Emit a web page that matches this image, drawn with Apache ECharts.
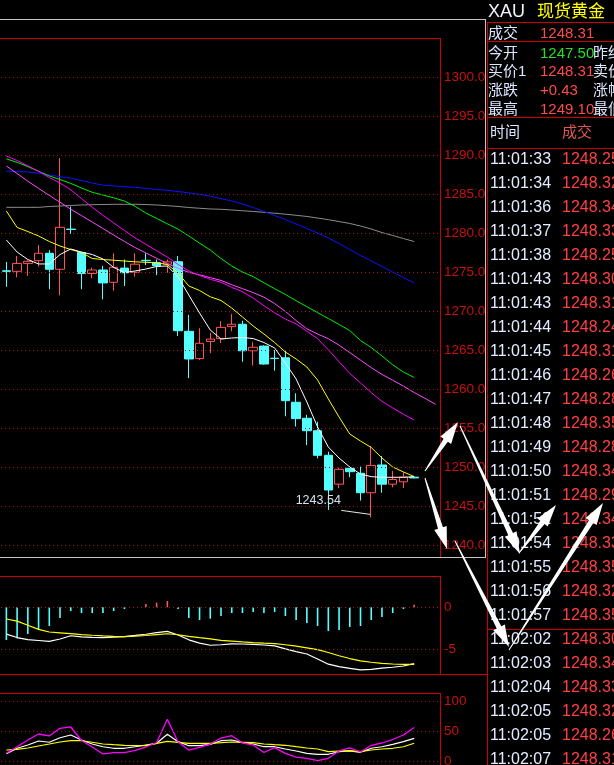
<!DOCTYPE html>
<html><head><meta charset="utf-8">
<script src="https://cdn.jsdelivr.net/npm/echarts@6/dist/echarts.min.js"></script>
<style>html,body{margin:0;padding:0;background:#000;overflow:hidden}#c{width:614px;height:765px}</style>
</head><body><div id="c"></div>
<script>
// ---------- DATA ----------
const categories = ['1','2','3','4','5','6','7','8','9','10','11','12','13','14','15','16','17','18','19','20','21','22','23','24','25','26','27','28','29','30','31','32','33','34','35','36','37','38','39','40','41'];
const kOpen  = [1275.15,1275.09,1276.10,1276.45,1277.40,1275.35,1280.50,1277.50,1274.80,1275.26,1273.68,1275.50,1274.96,1276.50,1276.20,1276.00,1276.32,1267.40,1263.90,1266.10,1266.45,1268.00,1268.30,1264.90,1265.50,1263.95,1264.00,1258.30,1256.25,1254.65,1251.50,1247.80,1249.83,1249.20,1246.70,1250.26,1247.80,1248.10,1248.70];
const kClose = [1275.09,1276.10,1276.37,1277.40,1275.35,1280.73,1280.45,1274.80,1275.26,1273.60,1275.60,1274.90,1276.00,1276.45,1275.80,1276.30,1267.47,1263.85,1265.86,1266.40,1267.90,1268.30,1264.90,1265.35,1263.20,1263.90,1258.50,1256.20,1254.65,1251.50,1247.05,1249.70,1249.40,1246.70,1250.20,1247.80,1248.40,1248.70,1248.60];
const kLow   = [1273.10,1274.30,1274.50,1275.70,1272.80,1272.00,1279.90,1272.80,1274.20,1271.50,1272.60,1273.20,1274.40,1275.90,1274.60,1274.90,1266.80,1261.40,1263.70,1264.60,1265.90,1267.40,1263.50,1263.00,1263.10,1262.35,1256.50,1255.20,1252.80,1251.10,1244.50,1247.30,1248.70,1245.70,1243.54,1246.70,1247.40,1247.30,1248.55];
const kHigh  = [1276.30,1277.05,1276.50,1278.46,1277.80,1289.60,1283.40,1277.60,1275.55,1275.80,1277.40,1276.60,1277.40,1277.40,1276.60,1276.60,1277.05,1269.50,1267.80,1267.20,1268.70,1269.60,1268.75,1266.00,1265.60,1265.00,1265.00,1259.45,1256.70,1255.80,1251.96,1249.90,1250.10,1250.05,1252.70,1251.40,1249.50,1249.30,1248.80];

const maWhite  = [1279.10,1277.56,1276.60,1276.03,1276.03,1277.24,1277.95,1277.56,1277.24,1276.67,1275.58,1274.94,1275.13,1275.38,1275.71,1275.77,1274.36,1272.05,1269.74,1267.56,1266.41,1266.54,1266.60,1266.47,1265.96,1265.26,1263.33,1261.28,1258.33,1255.13,1252.56,1251.15,1250.00,1249.10,1248.76,1248.68,1248.68,1248.68,1248.76];
const maYellow = [1282.82,1280.71,1280.19,1279.62,1278.91,1278.33,1277.88,1277.50,1276.73,1276.60,1276.51,1276.41,1276.31,1276.24,1276.18,1275.96,1274.87,1273.21,1272.63,1271.82,1271.35,1270.38,1269.23,1268.08,1267.05,1265.96,1264.74,1263.85,1262.82,1261.15,1258.72,1256.41,1254.23,1253.33,1252.50,1251.15,1250.00,1249.36,1248.78];
const maMagentaA = [1289.87,1289.29,1288.62,1287.91,1287.12,1286.41,1285.54,1284.42,1283.31,1282.26,1281.29,1280.32,1279.37,1278.55,1277.73,1276.90,1275.97,1275.13,1274.56,1274.06,1273.69,1273.03,1272.47,1271.67,1270.67,1269.77,1268.96,1268.35,1267.41,1266.45,1265.04,1263.50,1262.00,1260.78,1259.54,1258.41,1257.58,1256.76,1256.03];
const maMagentaB = [1288.59,1287.62,1286.64,1285.72,1284.82,1283.94,1283.05,1282.23,1281.40,1280.58,1279.74,1278.92,1278.13,1277.44,1276.76,1276.08,1275.47,1274.96,1274.63,1274.28,1273.92,1273.37,1272.87,1272.35,1271.77,1270.95,1269.94,1268.78,1267.72,1267.05,1266.45,1265.62,1264.67,1263.71,1262.74,1261.87,1261.12,1260.37,1259.55,1258.81,1258.03];
const maGreen = [1289.51,1289.06,1288.51,1287.91,1287.31,1286.86,1286.36,1285.77,1285.22,1284.87,1284.51,1284.10,1283.42,1282.56,1281.87,1281.18,1280.50,1279.62,1278.69,1277.82,1276.73,1275.77,1275.00,1274.40,1273.62,1272.86,1272.12,1271.32,1270.56,1269.79,1269.04,1268.28,1267.49,1266.22,1265.32,1264.23,1263.10,1262.18,1261.47];
const maBlue  = [1287.92,1287.87,1287.82,1287.67,1287.44,1287.22,1287.03,1286.73,1286.41,1286.13,1286.03,1285.94,1285.85,1285.72,1285.59,1285.47,1285.32,1285.14,1284.94,1284.71,1284.42,1284.10,1283.72,1283.27,1282.76,1282.24,1281.73,1281.15,1280.58,1280.00,1279.36,1278.65,1277.88,1277.12,1276.41,1275.71,1275.00,1274.29,1273.59];
const maGray  = [1283.29,1283.29,1283.29,1283.29,1283.40,1283.46,1283.53,1283.59,1283.63,1283.65,1283.68,1283.68,1283.68,1283.65,1283.59,1283.50,1283.40,1283.27,1283.17,1283.08,1283.04,1282.95,1282.85,1282.76,1282.65,1282.54,1282.41,1282.27,1282.12,1281.92,1281.71,1281.47,1281.22,1280.90,1280.51,1280.06,1279.68,1279.29,1278.91];

const macdHist = [-3.89,-3.69,-3.18,-2.62,-2.23,-1.27,-0.44,-0.68,-0.68,-0.68,-0.44,-0.20,0,0.39,0.55,0.75,-0.20,-1.27,-1.51,-1.36,-1.04,-0.68,-0.68,-0.56,-0.68,-0.56,-1.04,-1.51,-1.87,-2.23,-2.82,-2.70,-2.35,-2.23,-1.51,-1.15,-0.68,-0.20,0.31];
const macdDif  = [-3.20,-3.60,-3.85,-3.95,-4.05,-3.77,-3.39,-3.51,-3.57,-3.60,-3.54,-3.48,-3.35,-3.21,-3.01,-2.87,-3.30,-3.87,-4.26,-4.52,-4.46,-4.35,-4.37,-4.42,-4.49,-4.60,-4.94,-5.27,-5.56,-6.15,-6.77,-7.06,-7.26,-7.46,-7.40,-7.25,-7.14,-6.99,-6.71];
const macdDea  = [-1.39,-1.65,-2.13,-2.63,-2.94,-3.04,-3.14,-3.25,-3.33,-3.40,-3.46,-3.49,-3.44,-3.36,-3.25,-3.15,-3.27,-3.46,-3.62,-3.76,-3.94,-4.02,-4.12,-4.20,-4.27,-4.33,-4.46,-4.63,-4.82,-5.04,-5.38,-5.77,-6.10,-6.37,-6.54,-6.68,-6.75,-6.79,-6.79];

const kdjJ = [12.8,23.8,35,45,41.7,54.5,56.7,34.2,23.3,11.7,13.8,13.8,17.8,23.3,30.8,69.5,31.7,18.3,22.8,28.3,38.3,42.2,30,26.7,14.2,22.2,12.8,6.3,4.5,0.5,4.5,16.7,21.7,15,26.2,30,35.8,43.3,55.8];
const kdjK = [12.2,21.2,26.7,33.3,31.2,38.8,43.3,35,28.3,23.8,21.2,21.2,23.8,26.7,29.5,44.5,32.2,25.5,25.5,27.8,33.8,35,30.5,28.3,23.8,23.8,20,16.7,12.8,11.2,11.2,15.5,16.7,14.5,21.2,23.8,27.8,32.2,37.8];
const kdjD = [18.3,19.5,21.7,25,28.3,31.7,33.8,33.8,31.2,28.3,27.2,26.2,25.5,25.5,29.5,32.8,31.2,29.5,29.5,29.5,30.5,31.7,31.2,30.5,28.3,27.2,26.2,23.8,21.7,20,15.5,16.7,17.2,15.5,18.3,20,21.2,23.8,29.5];

const mainTicks = [1240,1245,1250,1255,1260,1265,1270,1275,1280,1285,1290,1295,1300];
const macdTicks = [0,-5];
const kdjTicks  = [0,50,100];
const lowMark = {index:34, value:1243.54};

const quoteHeader = ['XAU','现货黄金'];
const quoteLabels = ['成交','今开','买价1','涨跌','最高'];
const quoteValues = ['1248.31','1247.50','1248.31','+0.43','1249.10'];
const quoteValueColors = ['#ff4a4a','#22e022','#ff4a4a','#ff4a4a','#ff4a4a'];
const quoteRight = ['','昨结','卖价','涨幅','最低'];
const tableHeader = ['时间','成交'];
const tradeTimes = ['11:01:33','11:01:34','11:01:36','11:01:37','11:01:38','11:01:43','11:01:43','11:01:44','11:01:45','11:01:46','11:01:47','11:01:48','11:01:49','11:01:50','11:01:51','11:01:52','11:01:54','11:01:55','11:01:56','11:01:57','11:02:02','11:02:03','11:02:04','11:02:05','11:02:05','11:02:07'];
const tradePrices = ['1248.25','1248.32','1248.34','1248.33','1248.25','1248.30','1248.31','1248.24','1248.31','1248.26','1248.28','1248.35','1248.28','1248.34','1248.29','1248.34','1248.33','1248.35','1248.32','1248.35','1248.30','1248.34','1248.33','1248.32','1248.26','1248.31'];

// ---------- STYLE ----------
const FONT = '"Liberation Sans","Noto Sans CJK SC",sans-serif';
const RED = '#cc0000', GRAY = '#c4c4c4', AXISRED = '#c81010', DOT = '#a01414';
const UP = '#ff5454', DOWN = '#54ffff';

const hasTick = (arr, v) => arr.some(t => Math.abs(t - v) < 1e-6);
const candleData = kOpen.map((o, i) => [o, kClose[i], kLow[i], kHigh[i]]);

function gridLines(ticks) {
  return {
    silent: true, symbol: ['none','none'], animation: false,
    label: {show: false},
    lineStyle: {color: DOT, type: [1,3], width: 1},
    data: ticks.map(v => ({yAxis: v}))
  };
}
function line(name, data, color, xi, width) {
  return {name, type:'line', xAxisIndex:xi, yAxisIndex:xi, data, symbol:'none', showSymbol:false,
    lineStyle:{color, width: width || 1}, z:3, animation:false, silent:true};
}
function yAx(gi, min, max, interval, ticks, fmt, pad) {
  return {gridIndex:gi, type:'value', position:'right', min, max, interval, scale:false,
    axisLine:{show:false}, axisTick:{show:false}, splitLine:{show:false},
    axisLabel:{margin:3, color:AXISRED, fontSize:13.5, fontFamily:FONT, padding:[pad,0,0,0],
      showMinLabel:true, showMaxLabel:true,
      formatter: v => hasTick(ticks, v) ? fmt(v) : ''}};
}
const xAx = gi => ({gridIndex:gi, type:'category', data:categories, boundaryGap:true, show:false});

// frame lines
const L = (x1,y1,x2,y2,c) => ({type:'line', silent:true, z:50, shape:{x1,y1,x2,y2}, style:{stroke:c, lineWidth:1}});
const graphics = [
  L(0,19.5,486,19.5,GRAY), L(485.5,19,485.5,557,GRAY), L(0,557.5,486,557.5,GRAY),
  L(0,38.5,440,38.5,RED), L(440.5,38,440.5,557,RED),
  L(0,576.5,440,576.5,RED), L(440.5,576,440.5,674,RED), L(0,674.5,488,674.5,RED),
  L(0,693.5,440,693.5,RED), L(440.5,693,440.5,765,RED),
  L(487.5,22,487.5,765,RED),
  L(487,22.5,614,22.5,RED), L(487,41.5,614,41.5,RED), L(487,117.5,614,117.5,RED),
  L(487,148.5,614,148.5,RED), L(487,629.5,614,629.5,RED)
];
const T = (text,x,y,fill,size) => ({type:'text', silent:true, z:60,
  style:{text, x, y, fill, font: size + 'px ' + FONT, align:'left', verticalAlign:'middle'}});
graphics.push(T(quoteHeader[0], 488, 12, '#f0f4ff', 18));
graphics.push(T(quoteHeader[1], 537, 12.5, '#ffff00', 17));
const quoteY = [34, 53.5, 71.7, 91.2, 110.3];
quoteLabels.forEach((s,i) => {
  graphics.push(T(s, 488, quoteY[i], '#dde6ff', 15));
  graphics.push(T(quoteValues[i], 540, quoteY[i], quoteValueColors[i], 15));
  if (quoteRight[i]) graphics.push(T(quoteRight[i], 593, quoteY[i], '#dde6ff', 15));
});
graphics.push(T(tableHeader[0], 490, 132.5, '#dde6ff', 15));
graphics.push(T(tableHeader[1], 562, 132.5, '#e05858', 15));
tradeTimes.forEach((t,i) => {
  const y = 159.7 + 24*i;
  graphics.push(T(t, 490, y, '#e4ecff', 16));
  graphics.push(T(tradePrices[i], 562, y, '#ff4040', 16));
});
// annotation arrows
function arrow(x1,y1,x2,y2){
  const dx=x2-x1, dy=y2-y1, len=Math.hypot(dx,dy), ux=dx/len, uy=dy/len, px=-uy, py=ux;
  const hl=22, hw=6.5, nw=2.6, tw=0.5;
  const nx=x2-ux*hl, ny=y2-uy*hl;
  return {type:'polygon', silent:true, z:100, shape:{points:[
    [x1+px*tw,y1+py*tw],[nx+px*nw,ny+py*nw],[nx+px*hw,ny+py*hw],[x2,y2],
    [nx-px*hw,ny-py*hw],[nx-px*nw,ny-py*nw],[x1-px*tw,y1-py*tw]]}, style:{fill:'#ffffff'}};
}
graphics.push(arrow(425,471,458,422));
graphics.push(arrow(460,426,520,554));
graphics.push(arrow(519,553,556,505));
graphics.push(arrow(425,478,447,549));
graphics.push(arrow(455,541,509,647));
graphics.push(arrow(509,650,603,503));

const chart = echarts.init(document.getElementById('c'), null, {renderer:'canvas', width:614, height:765});
const option = {
  backgroundColor:'#000000',
  animation:false,
  grid:[
    {left:1, top:38, width:440, height:546, containLabel:false, outerBoundsMode:'none'},
    {left:1, top:576, width:440, height:115.3, containLabel:false, outerBoundsMode:'none'},
    {left:1, top:693, width:440, height:98, containLabel:false, outerBoundsMode:'none'}
  ],
  xAxis:[xAx(0), xAx(1), xAx(2)],
  yAxis:[
    yAx(0, 1235, 1305, 5, mainTicks, v => v.toFixed(1), 3),
    yAx(1, -10, 3.726, 5, macdTicks, v => String(Math.round(v)), 6),
    yAx(2, -50, 113.33, 50, kdjTicks, v => String(Math.round(v)), 6)
  ],
  series:[
    {name:'K', type:'candlestick', xAxisIndex:0, yAxisIndex:0, data:candleData, barWidth:9, z:2, silent:true,
      itemStyle:{color:'rgba(0,0,0,0)', color0:DOWN, borderColor:UP, borderColor0:DOWN, borderWidth:1},
      markLine: gridLines(mainTicks),
      markPoint:{symbol:'circle', symbolSize:0, silent:true, animation:false,
        data:[{coord:[categories[lowMark.index], lowMark.value]}],
        label:{show:true, formatter: () => lowMark.value.toFixed(2), offset:[-53,-17],
          color:'#d8e0f0', fontSize:12.5, fontFamily:FONT}}},
    line('gray', maGray, '#8c8c8c', 0),
    line('blue', maBlue, '#0a14ff', 0),
    line('green', maGreen, '#00ee00', 0),
    line('magentaB', maMagentaB, '#ff4cff', 0),
    line('magentaA', maMagentaA, '#ff00ff', 0),
    line('yellow', maYellow, '#ffff00', 0),
    line('white', maWhite, '#ffffff', 0),
    {name:'MACD', type:'bar', xAxisIndex:1, yAxisIndex:1, data:macdHist, barWidth:1.6, silent:true,
      itemStyle:{color: p => p.value >= 0 ? UP : DOWN}, markLine: gridLines(macdTicks)},
    line('DIF', macdDif, '#ffffff', 1, 1.2),
    line('DEA', macdDea, '#ffff00', 1, 1.2),
    Object.assign(line('K', kdjK, '#ffffff', 2, 1.2), {markLine: gridLines(kdjTicks)}),
    line('D', kdjD, '#ffff00', 2, 1.2),
    line('J', kdjJ, '#ff00ff', 2, 1.3)
  ],
  graphic: graphics
};
chart.setOption(option);
const p = chart.convertToPixel({xAxisIndex:0, yAxisIndex:0}, [categories[lowMark.index], lowMark.value]);
graphics.push({type:'line', silent:true, z:55, shape:{x1:p[0]-30, y1:p[1]-7, x2:p[0]-1, y2:p[1]-3}, style:{stroke:'#e8e8e8', lineWidth:1}});
chart.setOption({graphic: graphics});
</script>
</body></html>
